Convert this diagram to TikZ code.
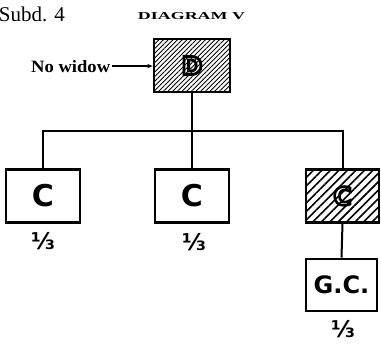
\documentclass[tikz,border=0pt]{standalone}
\usepackage{fontspec}
\usepackage{graphicx}
\newfontfamily\boxfont{DejaVu Sans}
\newfontfamily\serfont{Liberation Serif}
\usetikzlibrary{patterns.meta,arrows.meta}
\newcommand\outl[1]{\special{pdf:literal direct 1 Tr}#1\special{pdf:literal direct 0 Tr}}
\begin{document}
\begin{tikzpicture}[x=1pt,y=-1pt,
  box/.style={draw, line width=2.6pt, minimum width=74pt, minimum height=53pt, inner sep=0pt,
    font=\boxfont\bfseries\fontsize{30}{30}\selectfont},
  hatchbox/.style={box, font=\boxfont\bfseries\fontsize{25}{25}\selectfont},
  conn/.style={line width=2pt},
  frac/.style={font=\boxfont\bfseries\fontsize{23}{23}\selectfont, inner sep=0pt}]
\useasboundingbox (0,0) rectangle (381,348);
\coordinate (j) at (192,131);
% labels
\node[anchor=base east, inner sep=0pt, font=\serfont\fontsize{21}{21}\selectfont] (subd) at (65,22) {Subd. 4};
\node[inner sep=0pt] (title) at (191.5,16.5) {\resizebox{107pt}{7pt}{\serfont\bfseries DIAGRAM V}};
\node[anchor=base west, inner sep=0pt] (nw) at (31,72) {\resizebox{79pt}{12pt}{\serfont\bfseries No widow}};
% boxes
\node[box] (C1) at (43,196) {C};
\node[box] (C2) at (192,196) {C};
\node[box, minimum width=71pt, minimum height=52pt, font=\boxfont\bfseries\fontsize{24}{24}\selectfont] (GC) at (341.5,285) {G.C.};
\node[hatchbox, line width=2.8pt, minimum width=76pt,
  pattern={Lines[angle=45,distance=3.3pt,line width=0.9pt]}] (D) at (192,65.5) {\outl{D}};
\node[hatchbox, minimum width=73pt,
  pattern={Lines[angle=45,distance=6pt,line width=1.6pt]}] (C3) at (342.5,196) {\outl{C}};
% fractions
\node[frac] (f1) at (43,241) {⅓};
\node[frac] (f2) at (194,242) {⅓};
\node[frac] (f3) at (343,329) {⅓};
% connectors
\draw[line width=1.5pt, shorten <=2pt, -{Latex[length=6pt,width=4.5pt]}] (nw.east) -- (nw.east -| D.west);
\draw[conn] (D.south) -- (j);
\draw[conn] (C1.north) -- (C1.north |- j) -- (C3.north |- j) -- (C3.north);
\draw[conn] (C2.north) -- (C2.north |- j);
\draw[conn] (C3.south) -- (GC.north);
\end{tikzpicture}
\end{document}
